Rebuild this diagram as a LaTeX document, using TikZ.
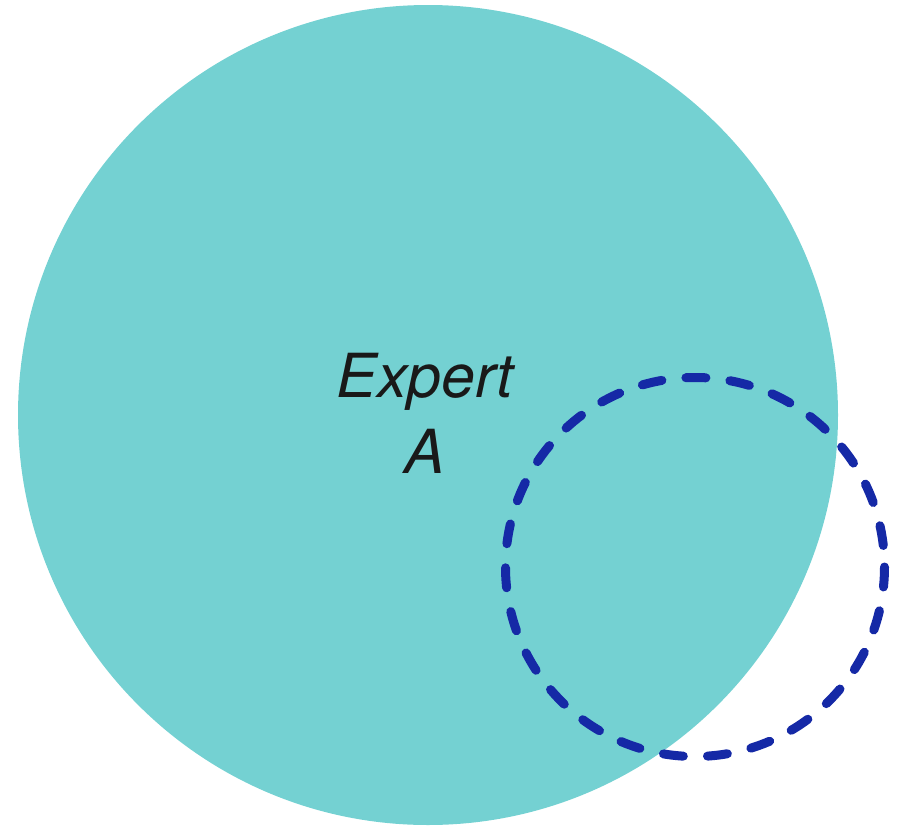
\documentclass[tikz,border=0pt]{standalone}
\usepackage{fontspec}
\setmainfont{TeX Gyre Heros}
\definecolor{tealfill}{HTML}{74D1D2}
\definecolor{dashblue}{HTML}{1529A6}
\begin{document}
\begin{tikzpicture}[x=1bp,y=-1bp,
  labeltext/.style={inner sep=0pt,anchor=base,font=\fontsize{61}{76}\selectfont\itshape,text=black!90}]
\useasboundingbox (0,0) rectangle (902,830);
\fill[tealfill] (428,415) circle[radius=410];
\node[labeltext] (expert) at (425,397) {Expert};
\node[labeltext] (a) at (425,473) {A};
\draw[dashblue,line width=9bp,line cap=round,dash pattern=on 20bp off 24.2bp] (695,567) circle[radius=189.5];
\end{tikzpicture}
\end{document}
